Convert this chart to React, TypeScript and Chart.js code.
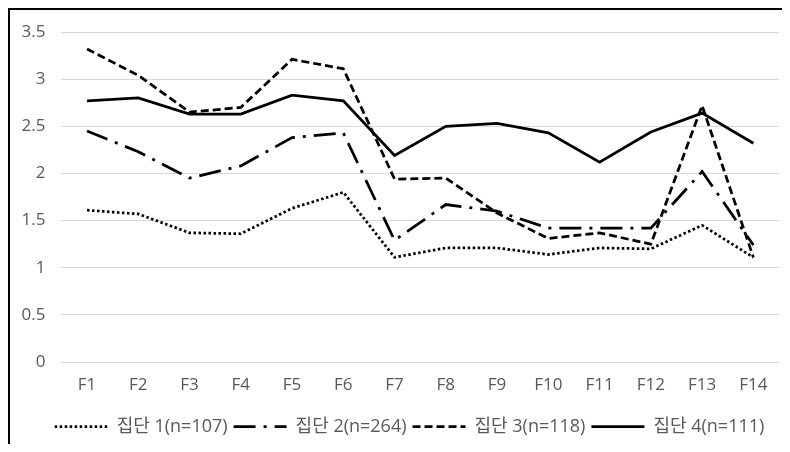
import { useEffect, useRef } from "react";
import { Chart, registerables } from "chart.js";

Chart.register(...registerables);

const categories = ["F1", "F2", "F3", "F4", "F5", "F6", "F7", "F8", "F9", "F10", "F11", "F12", "F13", "F14"];
const seriesNames = ["집단 1(n=107)", "집단 2(n=264)", "집단 3(n=118)", "집단 4(n=111)"];
const group1 = [1.61, 1.57, 1.37, 1.36, 1.63, 1.8, 1.11, 1.21, 1.21, 1.14, 1.21, 1.2, 1.45, 1.11];
const group2 = [2.45, 2.23, 1.95, 2.08, 2.38, 2.43, 1.29, 1.67, 1.6, 1.42, 1.42, 1.42, 2.02, 1.24];
const group3 = [3.32, 3.04, 2.65, 2.7, 3.21, 3.11, 1.94, 1.95, 1.58, 1.31, 1.37, 1.25, 2.72, 1.11];
const group4 = [2.77, 2.8, 2.63, 2.63, 2.83, 2.77, 2.19, 2.5, 2.53, 2.43, 2.12, 2.44, 2.64, 2.32];
const yTicks = { min: 0, max: 3.5, step: 0.5 };

const FONT = '"Open Sans", "Noto Sans CJK KR", sans-serif';
const TEXT = "#595959";

const legendShift = {
  id: "legendShift",
  afterLayout(chart: any) {
    const lg = chart.legend;
    if (!lg) return;
    lg.left += 15;
    lg.right += 15;
    lg.top += 1.5;
    lg.bottom += 1.5;
  },
};

export default function App() {
  const ref = useRef<HTMLCanvasElement | null>(null);
  useEffect(() => {
    if (!ref.current) return;
    const mk = (label: string, data: number[], dash: number[], order: number) => ({
      label,
      data,
      borderColor: "#000000",
      backgroundColor: "#000000",
      borderWidth: 2.75,
      borderDash: dash,
      borderCapStyle: "butt" as const,
      pointRadius: 0,
      tension: 0,
      fill: false,
      order,
    });
    const chart = new Chart(ref.current, {
      type: "line",
      plugins: [legendShift],
      data: {
        labels: categories,
        datasets: [
          mk(seriesNames[0], group1, [2.5, 2.5], 4),
          mk(seriesNames[1], group2, [22, 8, 3, 8], 3),
          mk(seriesNames[2], group3, [8, 4], 2),
          mk(seriesNames[3], group4, [], 1),
        ],
      },
      options: {
        animation: false,
        responsive: true,
        maintainAspectRatio: false,
        layout: { padding: { top: 22, right: 3, left: 0, bottom: 0 } },
        scales: {
          x: {
            offset: true,
            grid: { display: false, drawTicks: false },
            border: { display: false },
            ticks: { color: TEXT, font: { size: 17, family: FONT }, padding: 12.5, maxRotation: 0, autoSkip: false },
            afterFit: (s: any) => {
              s.height = 48;
            },
          },
          y: {
            min: yTicks.min,
            max: yTicks.max,
            ticks: {
              stepSize: yTicks.step,
              color: TEXT,
              font: { size: 17, family: FONT },
              padding: 16,
              callback: (v: any) => String(Number(v)),
            },
            grid: { color: "#d9d9d9", lineWidth: 1, drawTicks: false },
            border: { display: false },
            afterFit: (s: any) => {
              s.width = 51.4;
              s.paddingTop = 0;
              s.paddingBottom = 0;
            },
          },
        },
        plugins: {
          legend: {
            position: "bottom",
            labels: {
              usePointStyle: true,
              pointStyle: "line",
              pointStyleWidth: 53,
              color: TEXT,
              font: { size: 18, family: FONT },
              padding: 6,
              sort: (a: any, b: any) => a.datasetIndex - b.datasetIndex,
              generateLabels: (c: any) => {
                const items = Chart.defaults.plugins.legend.labels.generateLabels(c);
                return items.map((it: any) => {
                  const ds: any = c.data.datasets[it.datasetIndex];
                  return {
                    ...it,
                    lineDash: ds.borderDash,
                    lineWidth: ds.borderWidth,
                    strokeStyle: ds.borderColor,
                    fillStyle: ds.borderColor,
                    pointStyle: "line",
                  };
                });
              },
            },
          },
          tooltip: { enabled: false },
        },
      },
    });
    return () => chart.destroy();
  }, []);
  return (
    <div
      style={{
        borderLeft: "2px solid #000",
        borderTop: "2px solid #000",
        width: 772,
        height: 434,
        position: "relative",
        background: "#fff",
      }}
    >
      <canvas ref={ref} />
    </div>
  );
}
